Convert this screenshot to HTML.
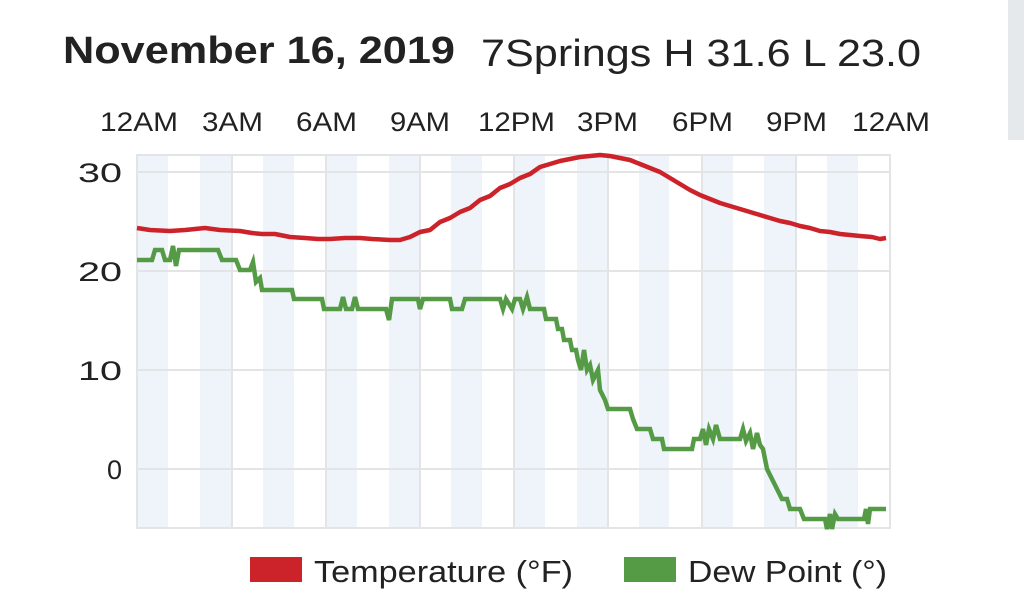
<!DOCTYPE html>
<html><head><style>
body{margin:0;background:#fff;width:1024px;height:589px;overflow:hidden;font-family:"Liberation Sans",sans-serif;}
</style></head><body>
<svg width="1024" height="589" viewBox="0 0 1024 589" xmlns="http://www.w3.org/2000/svg" font-family="Liberation Sans, sans-serif">
<rect x="1008" y="0" width="16" height="140" fill="#e6e9ec"/>
<text x="63" y="63" font-size="38" font-weight="bold" fill="#222" textLength="392" lengthAdjust="spacingAndGlyphs">November 16, 2019</text>
<text x="481" y="66" font-size="38" fill="#222" textLength="440" lengthAdjust="spacingAndGlyphs">7Springs H 31.6 L 23.0</text>
<g font-size="27" fill="#222" lengthAdjust="spacingAndGlyphs">
<text x="100" y="131" textLength="78" lengthAdjust="spacingAndGlyphs">12AM</text>
<text x="202" y="131" textLength="61" lengthAdjust="spacingAndGlyphs">3AM</text>
<text x="296" y="131" textLength="61" lengthAdjust="spacingAndGlyphs">6AM</text>
<text x="390" y="131" textLength="60" lengthAdjust="spacingAndGlyphs">9AM</text>
<text x="478" y="131" textLength="77" lengthAdjust="spacingAndGlyphs">12PM</text>
<text x="577" y="131" textLength="61" lengthAdjust="spacingAndGlyphs">3PM</text>
<text x="672" y="131" textLength="61" lengthAdjust="spacingAndGlyphs">6PM</text>
<text x="766" y="131" textLength="61" lengthAdjust="spacingAndGlyphs">9PM</text>
<text x="852" y="131" textLength="78" lengthAdjust="spacingAndGlyphs">12AM</text>
</g>
<g fill="#eef4fa">
<rect x="138" y="155" width="30" height="373"/><rect x="200" y="155" width="32" height="373"/><rect x="263" y="155" width="31" height="373"/><rect x="326" y="155" width="31" height="373"/><rect x="389" y="155" width="31" height="373"/><rect x="451" y="155" width="31" height="373"/><rect x="514" y="155" width="31" height="373"/><rect x="577" y="155" width="31" height="373"/><rect x="639" y="155" width="30" height="373"/><rect x="702" y="155" width="31" height="373"/><rect x="764" y="155" width="31" height="373"/><rect x="827" y="155" width="31" height="373"/>
</g>
<g stroke="#e2e4e6" stroke-width="2" fill="none">
<rect x="137" y="155" width="753" height="373"/>
<line x1="137" y1="172" x2="890" y2="172"/><line x1="137" y1="271" x2="890" y2="271"/><line x1="137" y1="370" x2="890" y2="370"/><line x1="137" y1="469" x2="890" y2="469"/>
<line x1="232" y1="155" x2="232" y2="528"/><line x1="326" y1="155" x2="326" y2="528"/><line x1="420" y1="155" x2="420" y2="528"/><line x1="514" y1="155" x2="514" y2="528"/><line x1="608" y1="155" x2="608" y2="528"/><line x1="702" y1="155" x2="702" y2="528"/><line x1="796" y1="155" x2="796" y2="528"/>
</g>
<g font-size="27" fill="#222" text-anchor="end">
<text x="122" y="182" textLength="44" lengthAdjust="spacingAndGlyphs">30</text><text x="122" y="281" textLength="44" lengthAdjust="spacingAndGlyphs">20</text><text x="122" y="380" textLength="44" lengthAdjust="spacingAndGlyphs">10</text><text x="122" y="479">0</text>
</g>
<polyline fill="none" stroke="#cc2229" stroke-width="4.5" stroke-linejoin="round" points="137,228 150,230 170,231 185,230 205,228 220,230 240,231 252,233 262,234 275,234 290,237 305,238 318,239 330,239 345,238 360,238 372,239 390,240 400,240 410,237 420,232 430,230 440,222 450,218 460,212 470,208 480,200 490,196 500,188 510,184 520,178 530,174 540,167 550,164 560,161 570,159 580,157 590,156 600,155 610,156 620,158 630,160 640,164 650,168 660,172 670,178 680,184 690,190 700,195 710,199 720,203 730,206 740,209 750,212 760,215 770,218 780,221 790,223 800,226 810,228 820,231 830,232 840,234 850,235 860,236 872,237 880,239 886,238"/>
<polyline fill="none" stroke="#559b45" stroke-width="4.5" stroke-linejoin="miter" points="137,260 152,260 155,250 162,250 165,260 170,260 173,246 176,266 179,250 218,250 222,260 236,260 240,270 250,270 253,262 256,282 260,278 262,290 292,290 294,299 322,299 324,309 340,309 343,297 346,309 352,309 355,297 358,309 386,309 389,320 392,299 418,299 420,309 423,299 450,299 452,309 462,309 465,299 500,299 503,309 506,299 512,309 515,299 520,299 523,309 527,297 530,309 544,309 546,319 556,319 558,329 562,329 564,340 570,340 572,350 576,350 578,360 581,370 584,350 587,370 590,365 593,380 598,370 600,390 605,400 608,409 630,409 633,419 637,429 650,429 653,439 662,439 664,449 692,449 694,439 700,439 703,429 706,445 709,429 713,439 716,425 720,439 740,439 743,429 746,441 750,433 753,449 757,433 760,445 763,449 767,469 772,479 777,489 782,499 787,499 790,509 800,509 804,519 825,519 827,529 830,514 832,529 835,514 838,519 864,519 866,509 868,524 870,509 886,509"/>
<rect x="250" y="557" width="52" height="25" fill="#cc2229"/>
<text x="314" y="582" font-size="31" fill="#222" textLength="259" lengthAdjust="spacingAndGlyphs">Temperature (°F)</text>
<rect x="624" y="557" width="52" height="25" fill="#559b45"/>
<text x="688" y="582" font-size="31" fill="#222" textLength="199" lengthAdjust="spacingAndGlyphs">Dew Point (°)</text>
</svg>
</body></html>
